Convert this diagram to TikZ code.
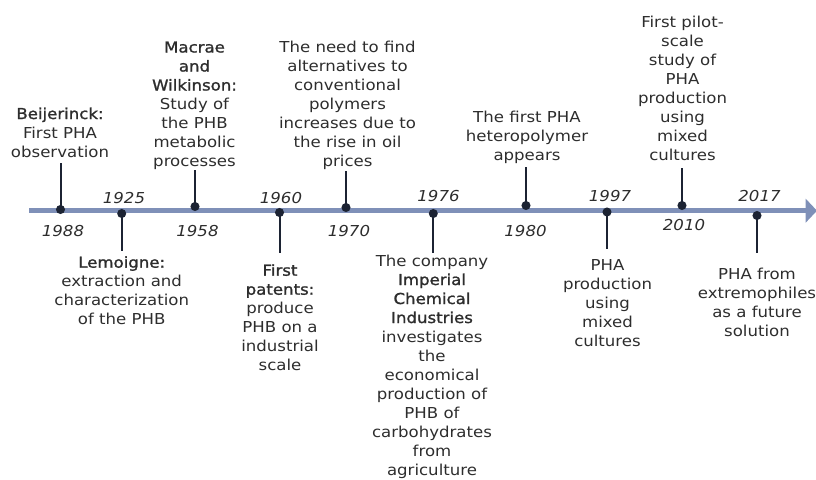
\documentclass[tikz,border=0pt]{standalone}
\usepackage{fontspec}
\setmainfont{DejaVu Sans}[
  FakeStretch=1.1,
  BoldFont={DejaVu Sans},
  BoldFeatures={FakeBold=1.3}]
\usetikzlibrary{arrows.meta}

\definecolor{txt}{HTML}{2D2D2D}
\definecolor{axiscol}{HTML}{7F90B8}
\definecolor{markcol}{HTML}{1C2333}

% Column of centred lines whose last baseline sits on the anchor
\newcommand\upcol[1]{\begin{tabular}[b]{@{}c@{}}#1\end{tabular}}
% Column of centred lines whose first baseline sits on the anchor
\newcommand\downcol[1]{\begin{tabular}[t]{@{}c@{}}#1\end{tabular}}

\begin{document}
\begin{tikzpicture}[x=0.75pt,y=-0.75pt,
  every node/.style={text=txt, inner sep=0pt, anchor=base,
    font=\fontsize{11.3}{14.25}\selectfont},
  yearlbl/.style={font=\fontsize{11.3}{14.25}\selectfont\itshape},
  axisline/.style={draw=axiscol, line width=3.75pt,
    -{Triangle[length=8.5pt,width=17.5pt]}},
  stemline/.style={draw=markcol, line width=1.5pt},
  dotmark/.style={fill=markcol}]

\useasboundingbox (0,0) rectangle (816,479);

% time axis
\coordinate (axisstart) at (29,210.7);
\coordinate (axisend) at (817,210.7);
\draw[axisline] (axisstart) -- (axisend);

% event points on the axis and the free ends of their stems
\coordinate (d1)  at (60.5,209.5);  \coordinate (s1)  at (60.5,163);
\coordinate (d2)  at (121.7,213.5); \coordinate (s2)  at (121.7,251);
\coordinate (d3)  at (195,206.5);   \coordinate (s3)  at (195,170);
\coordinate (d4)  at (279.5,212.5); \coordinate (s4)  at (279.5,253);
\coordinate (d5)  at (346,207.5);   \coordinate (s5)  at (346,171);
\coordinate (d6)  at (433.3,213.5); \coordinate (s6)  at (433.3,253);
\coordinate (d7)  at (526,205.5);   \coordinate (s7)  at (526,167);
\coordinate (d8)  at (607,212);     \coordinate (s8)  at (607,249);
\coordinate (d9)  at (682,205.5);   \coordinate (s9)  at (682,168);
\coordinate (d10) at (757,215.5);   \coordinate (s10) at (757,253);

\foreach \i in {1,...,10} {
  \draw[stemline] (d\i) -- (s\i);
  \fill[dotmark] (d\i) circle (3.4pt);
}

% years
\node[yearlbl] (y1)  at (63,236)    {1988};
\node[yearlbl] (y2)  at (124,203)   {1925};
\node[yearlbl] (y3)  at (197.5,236) {1958};
\node[yearlbl] (y4)  at (281,203)   {1960};
\node[yearlbl] (y5)  at (349,236)   {1970};
\node[yearlbl] (y6)  at (438.5,201.7) {1976};
\node[yearlbl] (y7)  at (525.5,236) {1980};
\node[yearlbl] (y8)  at (610,201.7) {1997};
\node[yearlbl] (y9)  at (684,230.7) {2010};
\node[yearlbl] (y10) at (759.5,201.7) {2017};

% event descriptions
\node (e1) at (60,157) {\upcol{\textbf{Beijerinck:}\\ First PHA\\ observation}};
\node (e2) at (121.7,267.7) {\downcol{\textbf{Lemoigne:}\\ extraction and\\ characterization\\ of the PHB}};
\node (e3) at (194.5,166.5) {\upcol{\textbf{Macrae}\\ \textbf{and}\\ \textbf{Wilkinson:}\\ Study of\\ the PHB\\ metabolic\\ processes}};
\node (e4) at (280,275.7) {\downcol{\textbf{First}\\ \textbf{patents:}\\ produce\\ PHB on a\\ industrial\\ scale}};
\node (e5) at (347.5,166.5) {\upcol{The need to find\\ alternatives to\\ conventional\\ polymers\\ increases due to\\ the rise in oil\\ prices}};
\node (e6) at (432,266) {\downcol{The company\\ \textbf{Imperial}\\ \textbf{Chemical}\\ \textbf{Industries}\\ investigates\\ the\\ economical\\ production of\\ PHB of\\ carbohydrates\\ from\\ agriculture}};
\node (e7) at (527,160) {\upcol{The first PHA\\ heteropolymer\\ appears}};
\node (e8) at (607.5,270) {\downcol{PHA\\ production\\ using\\ mixed\\ cultures}};
\node (e9) at (682.5,160.7) {\upcol{First pilot-\\ scale\\ study of\\ PHA\\ production\\ using\\ mixed\\ cultures}};
\node (e10) at (757,279.3) {\downcol{PHA from\\ extremophiles\\ as a future\\ solution}};

\end{tikzpicture}
\end{document}
